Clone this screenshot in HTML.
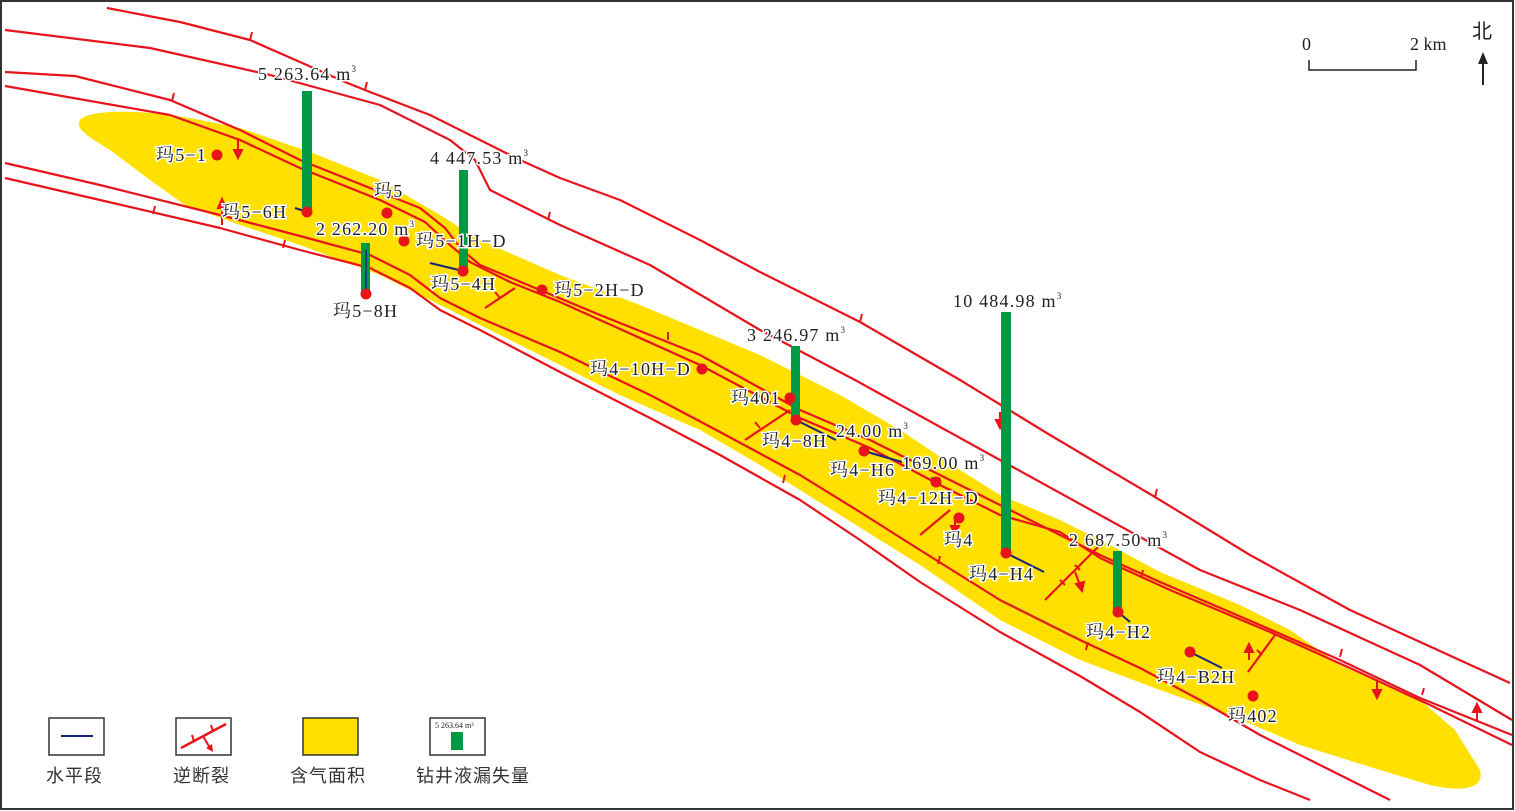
<!DOCTYPE html>
<html><head><meta charset="utf-8"><style>
html,body{margin:0;padding:0;background:#fff}
svg{display:block}
text{font-family:"Liberation Serif","Noto Serif CJK SC",serif;fill:#222}
.lb{font-size:18px;letter-spacing:1.2px;paint-order:stroke;stroke:#fff;stroke-width:3px}
.f{fill:none;stroke:#e8141b;stroke-width:2.2;stroke-linejoin:round}
.t{stroke:#e8141b;stroke-width:2}
.cn{font-family:"Liberation Sans","Noto Sans CJK SC",sans-serif;font-size:18px;fill:#333;letter-spacing:1px}
</style></head><body>
<svg width="1515" height="811" viewBox="0 0 1515 811" xmlns="http://www.w3.org/2000/svg">
<rect x="1" y="1" width="1512" height="808" fill="#fff" stroke="#333" stroke-width="2"/>
<path d="M80,120 C90,108 150,110 200,120 L240,128 L310,152 L380,180 L440,215 L480,240 L560,275 L640,305 L700,330 L760,355 L840,395 L900,430 L960,470 L1000,495 L1060,520 L1110,545 L1160,572 L1240,605 L1290,630 L1340,665 L1420,700 L1455,730 L1480,770 C1485,790 1460,792 1430,785 L1380,770 L1300,745 L1230,715 L1160,690 L1080,660 L1000,620 L920,565 L840,515 L760,465 L700,430 L620,395 L560,365 L470,320 L420,295 L380,275 L300,245 L240,225 L185,205 L150,180 L110,150 C85,135 75,128 80,120Z" fill="#ffe000"/>
<polyline class="f" points="107,8 180,22 250,40 300,62 345,82 370,92 430,115 480,140 520,160 560,178 620,200 700,240 760,272 860,322 960,380 1050,435 1155,497 1250,555 1350,610 1510,683"/>
<polyline class="f" points="5,30 150,48 270,75 380,105 450,140 475,160 490,190 560,225 650,265 760,330 855,380 1000,460 1100,515 1200,570 1300,610 1420,665 1512,720"/>
<polyline class="f" points="5,72 75,76 170,100 240,130 300,160 380,192 420,208 445,228 462,250 480,265 540,290 600,315 700,355 800,410 870,440 930,470 1000,505 1050,530 1100,555 1160,582 1260,625 1340,660 1420,698 1512,735"/>
<polyline class="f" points="5,86 170,115 240,140 300,168 380,200 425,222 450,245 470,262 510,282 560,302 700,365 800,418 870,448 940,485 1000,515 1060,532 1100,558 1170,590 1270,632 1350,668 1430,705 1512,745"/>
<polyline class="f" points="5,163 100,185 220,215 300,236 370,255 410,275 440,298 480,318 560,352 650,395 720,432 800,475 860,512 920,550 1000,600 1080,640 1140,668 1200,700 1260,735 1330,770 1390,800"/>
<polyline class="f" points="5,178 100,200 220,228 300,250 370,268 410,288 440,310 480,330 560,372 650,418 720,455 800,500 860,540 920,582 1000,632 1080,676 1140,712 1200,752 1260,780 1310,800"/>
<polyline class="f" points="485,308 515,288"/>
<polyline class="f" points="745,440 790,410"/>
<polyline class="f" points="920,535 950,510"/>
<polyline class="f" points="1045,600 1100,545"/>
<polyline class="f" points="1248,672 1275,635"/>
<g class="t">
<line x1="250" y1="40" x2="252" y2="32"/><line x1="365" y1="90" x2="367" y2="82"/><line x1="172" y1="101" x2="174" y2="93"/>
<line x1="155" y1="206" x2="153" y2="214"/><line x1="285" y1="240" x2="283" y2="248"/><line x1="548" y1="220" x2="550" y2="212"/>
<line x1="860" y1="322" x2="862" y2="314"/><line x1="1155" y1="497" x2="1157" y2="489"/><line x1="668" y1="340" x2="668" y2="332"/>
<line x1="785" y1="475" x2="783" y2="483"/><line x1="1340" y1="657" x2="1342" y2="649"/><line x1="1422" y1="695" x2="1424" y2="688"/>
<line x1="1088" y1="642" x2="1086" y2="650"/><line x1="940" y1="556" x2="938" y2="564"/><line x1="1143" y1="570" x2="1141" y2="578"/>
<line x1="500" y1="298" x2="495" y2="292"/><line x1="760" y1="428" x2="755" y2="422"/><line x1="1065" y1="585" x2="1060" y2="580"/><line x1="1080" y1="570" x2="1075" y2="565"/><line x1="1262" y1="655" x2="1257" y2="650"/>
</g>
<g fill="#e8141b" stroke="#e8141b" stroke-width="2">
<line x1="238" y1="140" x2="238" y2="152"/><path d="M234,150 L238,158 L242,150Z"/>
<line x1="222" y1="225" x2="222" y2="205"/><path d="M218,208 L222,199 L226,208Z"/>
<line x1="1000" y1="412" x2="1000" y2="422"/><path d="M996,420 L1000,428 L1004,420Z"/>
<line x1="1075" y1="572" x2="1080" y2="585"/><path d="M1076,584 L1082,591 L1084,582Z"/>
<line x1="1377" y1="680" x2="1377" y2="692"/><path d="M1373,690 L1377,698 L1381,690Z"/>
<line x1="1477" y1="720" x2="1477" y2="710"/><path d="M1473,712 L1477,704 L1481,712Z"/>
<line x1="1249" y1="660" x2="1249" y2="650"/><path d="M1245,652 L1249,644 L1253,652Z"/>
<line x1="955" y1="520" x2="955" y2="528"/><path d="M951,526 L955,534 L959,526Z"/>
</g>
<g stroke="#1a237e" stroke-width="2">
<line x1="295" y1="208" x2="307" y2="212"/><line x1="430" y1="263" x2="463" y2="271"/>
<line x1="796" y1="420" x2="836" y2="440"/><line x1="864" y1="451" x2="902" y2="462"/><line x1="1006" y1="553" x2="1044" y2="572"/>
<line x1="1118" y1="612" x2="1130" y2="622"/><line x1="1190" y1="652" x2="1222" y2="668"/>
</g>
<g fill="#009a44">
<rect x="302" y="91" width="10" height="121"/><rect x="459" y="170" width="9" height="101"/><rect x="361" y="243" width="9" height="51"/>
<rect x="791" y="346" width="9" height="74"/><rect x="1001" y="312" width="10" height="241"/><rect x="1113" y="551" width="9" height="61"/>
<rect x="931" y="477" width="9" height="4"/>
</g>
<g stroke="#1a237e" stroke-width="1.5"><line x1="366" y1="250" x2="366" y2="294"/></g>
<g fill="#e8141b">
<circle cx="217" cy="155" r="5.5"/><circle cx="307" cy="212" r="5.5"/><circle cx="387" cy="213" r="5.5"/><circle cx="404" cy="241" r="5.5"/>
<circle cx="463" cy="271" r="5.5"/><circle cx="366" cy="294" r="5.5"/><circle cx="542" cy="290" r="5.5"/><circle cx="702" cy="369" r="5.5"/>
<circle cx="790" cy="398" r="5.5"/><circle cx="796" cy="420" r="5.5"/><circle cx="864" cy="451" r="5.5"/><circle cx="936" cy="482" r="5.5"/>
<circle cx="959" cy="518" r="5.5"/><circle cx="1006" cy="553" r="5.5"/><circle cx="1118" cy="612" r="5.5"/><circle cx="1190" cy="652" r="5.5"/><circle cx="1253" cy="696" r="5.5"/>
</g>
<g class="lb">
<text x="258" y="80">5 263.64 m<tspan font-size="9" dy="-8">3</tspan></text>
<text x="430" y="164">4 447.53 m<tspan font-size="9" dy="-8">3</tspan></text>
<text x="316" y="235">2 262.20 m<tspan font-size="9" dy="-8">3</tspan></text>
<text x="747" y="341">3 246.97 m<tspan font-size="9" dy="-8">3</tspan></text>
<text x="953" y="307">10 484.98 m<tspan font-size="9" dy="-8">3</tspan></text>
<text x="836" y="437">24.00 m<tspan font-size="9" dy="-8">3</tspan></text>
<text x="902" y="469">169.00 m<tspan font-size="9" dy="-8">3</tspan></text>
<text x="1069" y="546">2 687.50 m<tspan font-size="9" dy="-8">3</tspan></text>
<text x="156" y="161">玛5−1</text>
<text x="222" y="218">玛5−6H</text>
<text x="374" y="197">玛5</text>
<text x="416" y="247">玛5−1H−D</text>
<text x="431" y="290">玛5−4H</text>
<text x="333" y="317">玛5−8H</text>
<text x="554" y="296">玛5−2H−D</text>
<text x="590" y="375">玛4−10H−D</text>
<text x="731" y="404">玛401</text>
<text x="762" y="447">玛4−8H</text>
<text x="830" y="476">玛4−H6</text>
<text x="878" y="504">玛4−12H−D</text>
<text x="944" y="546">玛4</text>
<text x="969" y="580">玛4−H4</text>
<text x="1086" y="638">玛4−H2</text>
<text x="1157" y="683">玛4−B2H</text>
<text x="1228" y="722">玛402</text>
</g>
<text x="1302" y="50" font-size="18">0</text>
<text x="1410" y="50" font-size="18">2 km</text>
<polyline points="1309,60 1309,70 1416,70 1416,60" fill="none" stroke="#222" stroke-width="1.5"/>
<text x="1472" y="38" font-size="20" style="font-family:'Noto Sans CJK SC',sans-serif">北</text>
<line x1="1483" y1="85" x2="1483" y2="60" stroke="#222" stroke-width="2"/>
<path d="M1478,64 L1483,52 L1488,64Z" fill="#222"/>
<rect x="49" y="718" width="55" height="37" fill="#fff" stroke="#333" stroke-width="1.5"/>
<line x1="61" y1="736" x2="93" y2="736" stroke="#1a237e" stroke-width="2"/>
<rect x="176" y="718" width="55" height="37" fill="#fff" stroke="#333" stroke-width="1.5"/>
<line x1="181" y1="748" x2="226" y2="724" stroke="#e8141b" stroke-width="2.5"/>
<line x1="194" y1="741" x2="192" y2="735" stroke="#e8141b" stroke-width="2"/><line x1="213" y1="731" x2="211" y2="725" stroke="#e8141b" stroke-width="2"/>
<line x1="203" y1="736" x2="210" y2="748" stroke="#e8141b" stroke-width="2"/><path d="M206,748 L213,752 L212,744Z" fill="#e8141b"/>
<rect x="303" y="718" width="55" height="37" fill="#ffe000" stroke="#333" stroke-width="1.5"/>
<rect x="430" y="718" width="55" height="37" fill="#fff" stroke="#333" stroke-width="1.5"/>
<text x="435" y="728" font-size="8">5 263.64 m³</text>
<rect x="451" y="732" width="12" height="18" fill="#009a44"/>
<text x="46" y="782" class="cn">水平段</text>
<text x="173" y="782" class="cn">逆断裂</text>
<text x="290" y="782" class="cn">含气面积</text>
<text x="416" y="782" class="cn">钻井液漏失量</text>
</svg>
</body></html>
